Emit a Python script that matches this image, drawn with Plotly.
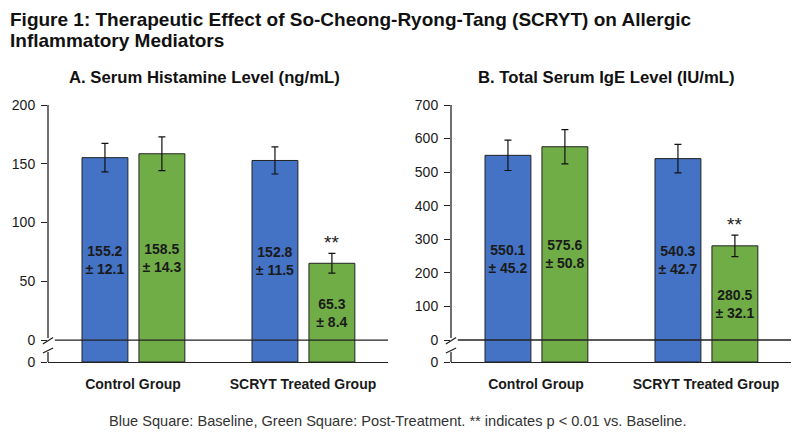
import plotly.graph_objects as go

groups = ["Control Group", "SCRYT Treated Group"]

histamine_baseline = [155.2, 152.8]
histamine_baseline_sd = [12.1, 11.5]
histamine_post = [158.5, 65.3]
histamine_post_sd = [14.3, 8.4]

ige_baseline = [550.1, 540.3]
ige_baseline_sd = [45.2, 42.7]
ige_post = [575.6, 280.5]
ige_post_sd = [50.8, 32.1]

hist_ticks = [0, 50, 100, 150, 200]
ige_ticks = [0, 100, 200, 300, 400, 500, 600, 700]

BLUE = "#4472C4"
GREEN = "#70AD47"
INK = "#1a1a1a"
FONT = "Liberation Sans"

# broken axis: the bottom of each panel sits a little below the real zero
hist_bottom = -18.7
ige_bottom = -65.5

# the page body adds an 8px margin, so the figure is a bit smaller and shifted
PAD = 8
W, H = 800 - PAD, 436 - PAD


def px(x, y):
    return (x - PAD) / W, 1 - (y - PAD) / H


def fx(x):
    return px(x, 0)[0]


def fy(y):
    return px(0, y)[1]


fig = go.Figure()


def add_panel(fig, base_vals, base_sd, post_vals, post_sd, bottom, xa, ya):
    for vals, sd, color, offset in [(base_vals, base_sd, BLUE, -0.3),
                                    (post_vals, post_sd, GREEN, 0.035)]:
        fig.add_trace(go.Bar(
            x=groups, y=[v - bottom for v in vals], base=bottom,
            width=0.27, offset=offset,
            marker=dict(color=color, line=dict(color="#222222", width=1)),
            error_y=dict(type="data", array=sd, color="#111111", thickness=1.2, width=3.5),
            text=[f"<b>{v}<br>± {s}</b>" for v, s in zip(vals, sd)],
            textposition="inside", insidetextanchor="middle", constraintext="none",
            textangle=0,
            textfont=dict(family=FONT, size=14, color=INK),
            xaxis=xa, yaxis=ya, showlegend=False, hoverinfo="skip",
        ))
    # significance mark over the treated post value
    fig.add_annotation(x=1 + 0.035 + 0.135, y=post_vals[1] + post_sd[1],
                       xref=xa, yref=ya, text="**", showarrow=False,
                       xanchor="center", yanchor="bottom", yshift=-2,
                       font=dict(family=FONT, size=19, color=INK))


add_panel(fig, histamine_baseline, histamine_baseline_sd, histamine_post, histamine_post_sd,
          hist_bottom, "x", "y")
add_panel(fig, ige_baseline, ige_baseline_sd, ige_post, ige_post_sd,
          ige_bottom, "x2", "y2")

y_dom = [fy(362), fy(105)]
axis_common = dict(showgrid=False, zeroline=False, automargin=False)
cat_font = dict(family=FONT, size=14, weight="bold", color=INK)
tick_font = dict(family=FONT, size=14, color=INK)

fig.update_layout(
    width=W, height=H, margin=dict(l=0, r=0, t=0, b=0),
    paper_bgcolor="white", plot_bgcolor="white", barmode="overlay",
    font=dict(family=FONT, color=INK),
    xaxis=dict(domain=[fx(48), fx(388)], range=[-0.5, 1.5], showline=True,
               linecolor="#222222", linewidth=1.3, ticks="", ticklabelstandoff=9,
               tickfont=cat_font, **axis_common),
    xaxis2=dict(domain=[fx(451), fx(791)], range=[-0.5, 1.5], showline=True,
                linecolor="#222222", linewidth=1.3, ticks="", ticklabelstandoff=9,
                tickfont=cat_font, anchor="y2", **axis_common),
    yaxis=dict(domain=y_dom, range=[hist_bottom, 200], showline=False,
               tickvals=[hist_bottom] + hist_ticks,
               ticktext=["0"] + [str(t) for t in hist_ticks],
               ticks="outside", ticklen=6, tickcolor="#222222", ticklabelstandoff=3,
               tickfont=tick_font, **axis_common),
    yaxis2=dict(domain=y_dom, range=[ige_bottom, 700], showline=False, anchor="x2",
                tickvals=[ige_bottom] + ige_ticks,
                ticktext=["0"] + [str(t) for t in ige_ticks],
                ticks="outside", ticklen=6, tickcolor="#222222", ticklabelstandoff=3,
                tickfont=tick_font, **axis_common),
)


def frac(p):
    return (362 - p) / 257


line = dict(color="#222222", width=1.3)
for xa, ya in [("x", "y"), ("x2", "y2")]:
    xd, yd = xa + " domain", ya + " domain"
    # y axis drawn in two pieces with a break
    fig.add_shape(type="line", xref=xd, yref=yd, x0=0, x1=0, y0=frac(338), y1=1, line=line)
    fig.add_shape(type="line", xref=xd, yref=yd, x0=0, x1=0, y0=0, y1=frac(352), line=line)
    fig.add_shape(type="line", xref=xd, yref=yd, x0=-0.015, x1=0.015,
                  y0=frac(344), y1=frac(337.5), line=line)
    fig.add_shape(type="line", xref=xd, yref=yd, x0=-0.015, x1=0.015,
                  y0=frac(353), y1=frac(348), line=line)
    # real zero line
    fig.add_shape(type="line", xref=xd, yref=ya, x0=0.02, x1=1, y0=0, y1=0, line=line)

title_font = dict(family=FONT, size=19, weight="bold", color="#111111")
x, y = px(9, 8)
fig.add_annotation(x=x, y=y, xref="paper", yref="paper", xanchor="left", yanchor="top",
                   showarrow=False, borderpad=0, font=title_font,
                   text="Figure 1: Therapeutic Effect of So-Cheong-Ryong-Tang (SCRYT) on Allergic")
x, y = px(9, 40.5)
fig.add_annotation(x=x, y=y, xref="paper", yref="paper", xanchor="left", yanchor="middle",
                   showarrow=False, borderpad=0, font=title_font,
                   text="Inflammatory Mediators")

for title, cx in [("A. Serum Histamine Level (ng/mL)", 204),
                  ("B. Total Serum IgE Level (IU/mL)", 606)]:
    x, y = px(cx, 77)
    fig.add_annotation(x=x, y=y, xref="paper", yref="paper", showarrow=False,
                       xanchor="center", yanchor="middle",
                       text=title, font=dict(family=FONT, size=16.7, weight="bold", color="#111111"))

x, y = px(397, 421)
fig.add_annotation(x=x, y=y, xref="paper", yref="paper", showarrow=False,
                   xanchor="center", yanchor="middle",
                   text="Blue Square: Baseline, Green Square: Post-Treatment. "
                        "** indicates p < 0.01 vs. Baseline.",
                   font=dict(family=FONT, size=14.6, color="#333333"))

fig.write_html("out.html")
